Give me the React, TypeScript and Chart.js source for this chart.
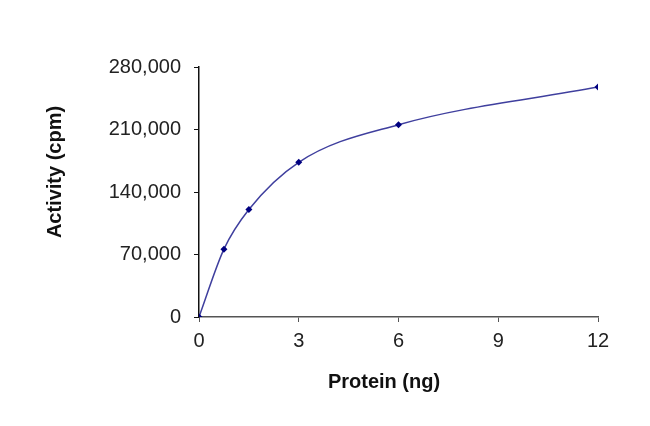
import React, { useEffect, useRef } from "react";
import { Chart, registerables } from "chart.js";

Chart.register(...registerables);

const proteinNg = [0, 0.75, 1.5, 3, 6, 12];
const activityCpm = [0, 76000, 120400, 173300, 215400, 257500];
const xTicks = [0, 3, 6, 9, 12];
const yTicks = [0, 70000, 140000, 210000, 280000];
const xTitle = "Protein (ng)";
const yTitle = "Activity (cpm)";

const FAMILY = "'Liberation Sans', Arial, sans-serif";

const axisTitles = {
  id: "axisTitles",
  afterDraw(chart: any) {
    const { ctx } = chart;
    ctx.save();
    ctx.fillStyle = "#111";
    ctx.font = `bold 20px ${FAMILY}`;
    ctx.textAlign = "center";
    ctx.textBaseline = "middle";
    ctx.fillText(xTitle, 384, 382);
    ctx.translate(55, 172);
    ctx.rotate(-Math.PI / 2);
    ctx.fillText(yTitle, 0, 0);
    ctx.restore();
  },
};

export default function App() {
  const ref = useRef<HTMLCanvasElement | null>(null);

  useEffect(() => {
    if (!ref.current) return;
    const font = { family: FAMILY, size: 20 };
    const chart = new Chart(ref.current, {
      type: "line",
      data: {
        datasets: [
          {
            data: proteinNg.map((x, i) => ({ x, y: activityCpm[i] })),
            borderColor: "#3f3f9e",
            borderWidth: 1.5,
            backgroundColor: "#000080",
            pointBackgroundColor: "#000080",
            pointBorderColor: "#000080",
            pointStyle: "rectRot",
            pointRadius: 3.5,
            pointBorderWidth: 0,
            cubicInterpolationMode: "monotone",
            fill: false,
          },
        ],
      },
      options: {
        animation: false,
        responsive: false,
        devicePixelRatio: 1,
        layout: { padding: { top: 67, right: 52, left: 0, bottom: 0 } },
        plugins: { legend: { display: false }, tooltip: { enabled: false } },
        scales: {
          x: {
            type: "linear",
            min: 0,
            max: 12,
            afterBuildTicks: (s: any) => {
              s.ticks = xTicks.map((v) => ({ value: v }));
            },
            afterFit: (s: any) => {
              s.height = 109;
            },
            grid: { display: true, drawOnChartArea: false, drawTicks: true, tickLength: 5, color: "#555" },
            border: { display: true, color: "#555", width: 1.5 },
            ticks: { color: "#222", font, padding: 7, maxRotation: 0 },
            title: { display: false },
          },
          y: {
            type: "linear",
            min: 0,
            max: 280000,
            afterBuildTicks: (s: any) => {
              s.ticks = yTicks.map((v) => ({ value: v }));
            },
            afterFit: (s: any) => {
              s.width = 199;
            },
            grid: { display: true, drawOnChartArea: false, drawTicks: true, tickLength: 5, color: "#111" },
            border: { display: true, color: "#111", width: 1.5 },
            ticks: {
              color: "#222",
              font,
              padding: 13,
              callback: (v: any) => Number(v).toLocaleString("en-US"),
            },
            title: { display: false },
          },
        },
      },
      plugins: [axisTitles],
    });
    return () => chart.destroy();
  }, []);

  return (
    <div style={{ position: "fixed", left: 0, top: 0, width: 650, height: 426, background: "#fff" }}>
      <canvas ref={ref} width={650} height={426} style={{ width: 650, height: 426 }} />
    </div>
  );
}
